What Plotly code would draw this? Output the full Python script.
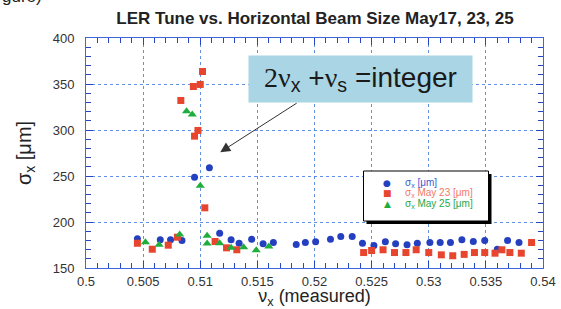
import plotly.graph_objects as go

# ---------------- data ----------------
x_may17 = [0.5045, 0.5065, 0.5074, 0.5084, 0.5095, 0.5108, 0.5117, 0.5127, 0.5134,
           0.5145, 0.5155, 0.5164, 0.5184, 0.5192, 0.5201, 0.5214, 0.5223, 0.5233,
           0.5242, 0.5252, 0.5262, 0.5271, 0.5281, 0.5290, 0.5301, 0.5310, 0.5319,
           0.5329, 0.5339, 0.5349, 0.5360, 0.5369, 0.5379]
y_may17 = [181.7, 180.7, 180.7, 179.9, 248.7, 258.9, 187.8, 180.7, 176.9,
           181.3, 176.3, 177.7, 175.5, 177.7, 178.5, 181.3, 184.2, 184.2,
           176.9, 174.5, 178.5, 176.3, 175.2, 176.9, 177.7, 177.7, 177.7,
           180.7, 178.8, 179.9, 170.4, 179.9, 177.7]

x_may23 = [0.5045, 0.5058, 0.5072, 0.5080, 0.5083, 0.5094, 0.5095, 0.5098, 0.5100,
           0.5102, 0.5104, 0.5113, 0.5123, 0.5132, 0.5243, 0.5250, 0.5260, 0.5270,
           0.5280, 0.5289, 0.5300, 0.5311, 0.5321, 0.5331, 0.5340, 0.5349, 0.5358,
           0.5364, 0.5371, 0.5381, 0.5390]
y_may23 = [176.9, 170.4, 174.8, 183.5, 332.1, 347.3, 293.3, 299.5, 349.5,
           363.6, 215.4, 178.8, 171.9, 169.8, 166.8, 169.0, 169.8, 166.8,
           166.8, 169.8, 166.8, 164.3, 163.3, 164.8, 166.8, 166.8, 166.1,
           169.8, 166.8, 166.1, 177.7]

x_may25 = [0.5052, 0.5064, 0.5082, 0.5088, 0.5093, 0.5100, 0.5106, 0.5106, 0.5117,
           0.5127, 0.5138, 0.5149, 0.5160]
y_may25 = [178.0, 175.2, 186.4, 320.4, 316.8, 239.3, 185.0, 176.6, 176.9,
           171.9, 172.6, 169.3, 173.4]

series_labels = ["σ<sub>x</sub> [μm]", "σ<sub>x</sub> May 23 [μm]", "σ<sub>x</sub> May 25 [μm]"]
series_colors = ["#2440c0", "#e8452e", "#1fae3c"]
legend_text_colors = ["#3a5cd0", "#ee7a6a", "#22a84a"]
legend_glyphs = ["●", "■", "▲"]

x_ticks = [0.5, 0.505, 0.51, 0.515, 0.52, 0.525, 0.53, 0.535, 0.54]
y_ticks = [150, 200, 250, 300, 350, 400]
x_minor_step = 0.001
y_minor_step = 10

# ---------------- figure ----------------
W, H = 561, 309
ML, MR, MT, MB = 86, 18, 38, 41
pw, ph = W - ML - MR, H - MT - MB


def px(xp):
    return (xp - ML) / pw


def py(yp):
    return 1 - (yp - MT) / ph


fig = go.Figure()
symbols = ["circle", "square", "triangle-up"]
sizes = [7, 7, 8]
for xs, ys, lab, col, sym, sz in zip([x_may17, x_may23, x_may25],
                                     [y_may17, y_may23, y_may25],
                                     series_labels, series_colors, symbols, sizes):
    fig.add_trace(go.Scatter(x=xs, y=ys, mode="markers", name=lab, showlegend=False,
                             marker=dict(symbol=sym, size=sz, color=col)))

axis_blue = "#3d66dd"
tick_blue = "#2446c4"
grid_blue = "rgba(70,125,225,0.85)"
common = dict(showline=True, linecolor=axis_blue, linewidth=1, mirror="allticks",
              ticks="inside", ticklen=7, tickcolor=tick_blue, tickwidth=1.4,
              showgrid=True, gridcolor=grid_blue, griddash="dot", gridwidth=1,
              zeroline=False, automargin=False, tickmode="linear",
              tickfont=dict(family="Liberation Sans, Arial", size=13, color="#333"))

fig.update_xaxes(range=[x_ticks[0], x_ticks[-1]], tick0=x_ticks[0],
                 dtick=round(x_ticks[1] - x_ticks[0], 6),
                 minor=dict(tick0=x_ticks[0], dtick=x_minor_step, ticks="inside", ticklen=5,
                            tickcolor=tick_blue, tickwidth=1.4, showgrid=False),
                 ticklabelstandoff=1,
                 title=dict(text="ν<sub>x</sub> (measured)",
                            font=dict(family="Liberation Sans, Arial", size=18, color="#222")),
                 **common)
fig.update_yaxes(range=[y_ticks[0], y_ticks[-1]], tick0=y_ticks[0], dtick=y_ticks[1] - y_ticks[0],
                 minor=dict(tick0=y_ticks[0], dtick=y_minor_step, ticks="inside", ticklen=5,
                            tickcolor=tick_blue, tickwidth=1.4, showgrid=False),
                 ticklabelstandoff=8,
                 title=dict(text="σ<sub>x</sub> [μm]",
                            font=dict(family="Liberation Sans, Arial", size=20, color="#222")),
                 **common)

fig.update_layout(
    width=W, height=H,
    margin=dict(l=ML, r=MR, t=MT, b=MB),
    paper_bgcolor="white", plot_bgcolor="white",
    title=dict(text="<b>LER Tune vs. Horizontal Beam Size May17, 23, 25</b>",
               x=315 / W, xanchor="center", y=1 - 18 / H, yanchor="middle",
               font=dict(family="Liberation Sans, Arial", size=17, color="#222")),
    showlegend=False,
)

# ---- legend box with drop shadow ----
fig.add_shape(type="rect", xref="paper", yref="paper", layer="above",
              x0=px(366.5), x1=px(491.5), y0=py(224), y1=py(174),
              fillcolor="black", line=dict(width=0))
fig.add_shape(type="rect", xref="paper", yref="paper", layer="above",
              x0=px(363.5), x1=px(488.5), y0=py(221), y1=py(171),
              fillcolor="white", line=dict(color="black", width=1))
row_y = [182.5, 193, 203.5]
for g, lab, col, tcol, ry in zip(legend_glyphs, series_labels, series_colors,
                                 legend_text_colors, row_y):
    fig.add_annotation(x=px(387), y=py(ry), xref="paper", yref="paper", showarrow=False,
                       text=g, xanchor="center", yanchor="middle",
                       font=dict(family="DejaVu Sans", size=9, color=col))
    fig.add_annotation(x=px(403), y=py(ry), xref="paper", yref="paper", showarrow=False,
                       text=lab, xanchor="left", yanchor="middle",
                       font=dict(family="Liberation Sans, Arial", size=10, color=tcol))

# arrow pointing at the resonance
fig.add_annotation(x=0.51175, y=275.9, ax=0.51857, ay=330.2, xref="x", yref="y",
                   axref="x", ayref="y", text="", showarrow=True,
                   arrowhead=2, arrowsize=2, arrowwidth=1, arrowcolor="#333")
# label box
fig.add_annotation(x=0.52403, y=355.5, xref="x", yref="y", showarrow=False,
                   text="<span style='font-family:Liberation Serif'>2ν</span><sub>x</sub> +"
                        "<span style='font-family:Liberation Serif'>ν</span><sub>s</sub> =integer",
                   font=dict(family="Liberation Sans, Arial", size=28, color="#1a1a1a"),
                   bgcolor="#a9d5e4", borderpad=4, width=215, height=38)

# clipped caption fragment at the very top-left of the page
fig.add_annotation(x=px(0), y=py(8), xref="paper", yref="paper", showarrow=False,
                   text="gure)", xanchor="left", yanchor="bottom",
                   font=dict(family="Liberation Sans, Arial", size=17, color="#222"))

fig.write_html("out.html", config={"displayModeBar": False},
               post_script="document.body.style.margin='0';")
